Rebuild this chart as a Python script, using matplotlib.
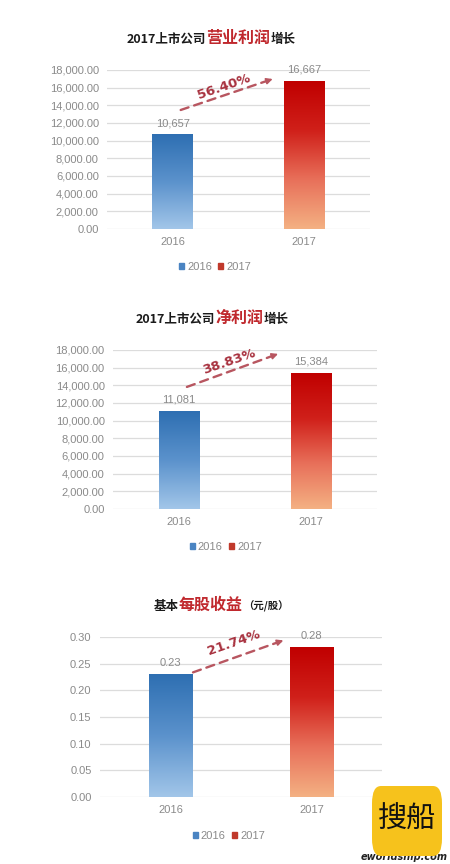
import matplotlib
matplotlib.use('Agg')
import matplotlib.pyplot as plt
import numpy as np
from matplotlib.colors import LinearSegmentedColormap
from matplotlib.patches import Patch, FancyBboxPatch
from matplotlib.offsetbox import TextArea, HPacker, AnnotationBbox

# ---- data ----
years = ['2016', '2017']
revenue_profit = [10657, 16667]
net_profit = [11081, 15384]
eps = [0.23, 0.28]
growth_labels = ['56.40%', '38.83%', '21.74%']
value_labels = [['10,657', '16,667'], ['11,081', '15,384'], ['0.23', '0.28']]

cjk = ['Noto Sans CJK SC', 'DejaVu Sans']
grey = '#8a8a8a'
title_red = '#c0282d'
pct_red = '#a8323f'
arrow_red = '#b85660'

blue_cmap = LinearSegmentedColormap.from_list('b', ['#a2c6e9', '#5b92cc', '#2e6fb2'])
red_cmap = LinearSegmentedColormap.from_list('r', ['#f4b183', '#e8705a', '#d0201a', '#c00000'])

fig = plt.figure(figsize=(4.5, 8.64), dpi=100)
fig.patch.set_facecolor('white')


def title(parts, x, y):
    kids = [TextArea(s, textprops=dict(color=c, size=sz, weight='bold', family=cjk))
            for s, c, sz in parts]
    box = HPacker(children=kids, align='baseline', pad=0, sep=0)
    ab = AnnotationBbox(box, (x, y), xycoords='figure fraction', frameon=False,
                        box_alignment=(0.5, 0.5))
    fig.add_artist(ab)


def panel(rect, vals, ymax, step, fmt, labels, pct, arrow, txt, leg_xy):
    ax = fig.add_axes(rect)
    bars = ax.bar([0, 1], vals, width=0.31, color='none', zorder=3)
    for b, cm in zip(bars, [blue_cmap, red_cmap]):
        x0, h = b.get_x(), b.get_height()
        grad = np.linspace(0, 1, 256).reshape(-1, 1)
        ax.imshow(grad, extent=[x0, x0 + b.get_width(), 0, h], origin='lower',
                  aspect='auto', cmap=cm, zorder=3)
    for i, (v, lab) in enumerate(zip(vals, labels)):
        ax.annotate(lab, (i, v), xytext=(0, 8.5), textcoords='offset points',
                    ha='center', va='center', color=grey, fontsize=8,
                    family='Liberation Sans')
    ax.set_xlim(-0.5, 1.5)
    ax.set_ylim(0, ymax)
    ticks = np.arange(0, ymax + step / 2, step)
    ax.set_yticks(ticks)
    ax.set_yticklabels([fmt.format(t) for t in ticks])
    ax.set_xticks([0, 1])
    ax.set_xticklabels(years)
    ax.tick_params(length=0, colors=grey, labelsize=8, pad=6)
    for t in ax.get_xticklabels() + ax.get_yticklabels():
        t.set_family('Liberation Sans')
    ax.grid(axis='y', color='#dcdcdc', lw=0.9, zorder=0)
    ax.set_axisbelow(True)
    for s in ax.spines.values():
        s.set_visible(False)
    # dashed growth arrow
    (sx, sy), (ex, ey) = arrow
    ax.annotate('', xy=(ex, ey), xytext=(sx, sy),
                arrowprops=dict(arrowstyle='-', color=arrow_red, lw=1.7,
                                linestyle=(0, (3.5, 2.5)), shrinkA=0, shrinkB=0), zorder=4)
    ax.annotate('', xy=(ex, ey), xytext=(ex - (ex - sx) * 0.04, ey - (ey - sy) * 0.04),
                arrowprops=dict(arrowstyle='-|>', color=arrow_red, lw=1.2,
                                mutation_scale=9, shrinkA=0, shrinkB=0), zorder=4)
    ax.text(txt[0], txt[1], pct, rotation=19, ha='center', va='center',
            color=pct_red, fontsize=9.5, weight='bold', family='DejaVu Sans', zorder=5)
    handles = [Patch(color='#4a84c2'), Patch(color='#c0392b')]
    fig.legend(handles, years, loc='center', bbox_to_anchor=leg_xy, ncol=2,
               frameon=False, handlelength=0.45, handleheight=0.45,
               handletextpad=0.25, columnspacing=0.6, prop={'family': 'Liberation Sans', 'size': 8},
               labelcolor=grey)
    return ax


panel([0.238, 0.735, 0.584, 0.184], revenue_profit, 18000, 2000, '{:,.2f}',
      value_labels[0], growth_labels[0],
      [(0.06, 13470), (0.76, 16980)], (0.39, 16075), (0.478, 0.691))
panel([0.251, 0.411, 0.587, 0.184], net_profit, 18000, 2000, '{:,.2f}',
      value_labels[1], growth_labels[1],
      [(0.06, 13810), (0.75, 17550)], (0.38, 16640), (0.502, 0.367))
panel([0.222, 0.0775, 0.627, 0.185], eps, 0.30, 0.05, '{:.2f}',
      value_labels[2], growth_labels[2],
      [(0.16, 0.234), (0.80, 0.294)], (0.45, 0.289), (0.509, 0.0324))

title([('2017上市公司', '#1a1a1a', 9), ('营业利润', title_red, 11.5), ('增长', '#1a1a1a', 9)],
      0.469, 1 - 38 / 864)
title([('2017上市公司', '#1a1a1a', 9), ('净利润', title_red, 11.5), ('增长', '#1a1a1a', 9)],
      0.471, 1 - 318 / 864)
title([('基本', '#1a1a1a', 9), ('每股收益', title_red, 11.5), ('（元/股）', '#1a1a1a', 7.5)],
      0.491, 1 - 605 / 864)

# watermark
fig.text(0.995, 1 - 857 / 864, 'eworldship.com', ha='right', va='center', fontsize=7,
         weight='bold', style='italic', color='#222222', family='DejaVu Sans')
fig.patches.append(FancyBboxPatch((372 / 450, 1 - 856 / 864), 70 / 450, 70 / 864,
                                  boxstyle='round,pad=0,rounding_size=0.02',
                                  transform=fig.transFigure, facecolor='#f6c21c',
                                  edgecolor='none', figure=fig, zorder=10))
fig.text(407 / 450, 1 - 820 / 864, '搜船', ha='center', va='center', fontsize=21,
         color='#111111', family=cjk, zorder=11)

fig.savefig('out.png', dpi=100, facecolor='white')
